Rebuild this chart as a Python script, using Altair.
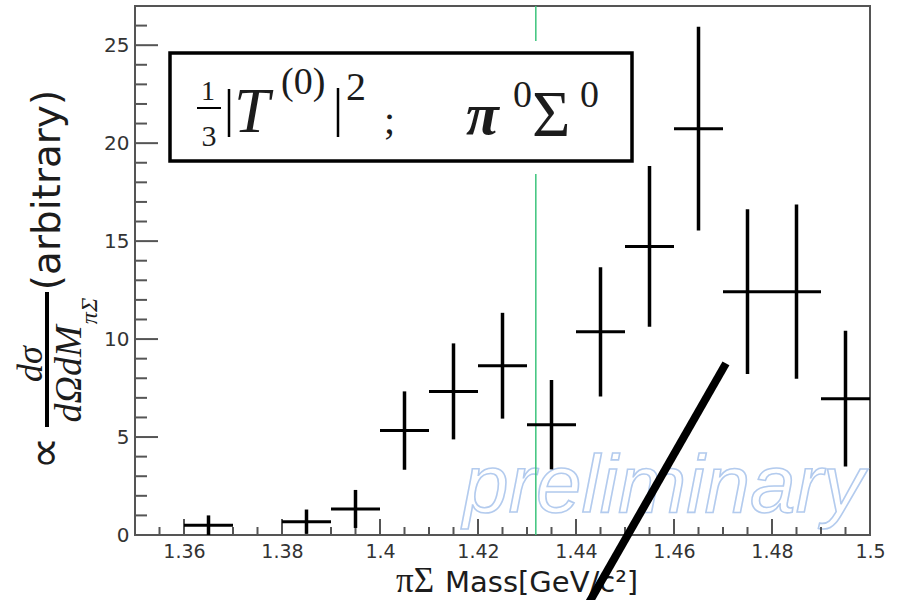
import altair as alt
import pandas as pd

# piSigma invariant-mass bins (GeV/c^2): centres, yields and statistical errors
mass = [1.365, 1.385, 1.395, 1.405, 1.415, 1.425, 1.435, 1.445, 1.455, 1.465, 1.475, 1.485, 1.495]
yields = [0.50, 0.68, 1.33, 5.33, 7.33, 8.64, 5.63, 10.37, 14.73, 20.74, 12.42, 12.42, 6.96]
errors = [0.50, 0.62, 0.97, 2.00, 2.45, 2.70, 2.28, 3.30, 4.10, 5.20, 4.20, 4.45, 3.46]
bin_half_width = 0.005

# vertical marker (threshold mass)
threshold = [1.4318]

# axis ticks
x_major = [1.36, 1.38, 1.40, 1.42, 1.44, 1.46, 1.48, 1.50]
x_minor = [1.355, 1.365, 1.37, 1.375, 1.385, 1.39, 1.395, 1.405, 1.41, 1.415,
           1.425, 1.43, 1.435, 1.445, 1.45, 1.455, 1.465, 1.47, 1.475, 1.485,
           1.49, 1.495]
y_major = [0, 5, 10, 15, 20, 25]
y_minor = [1, 2, 3, 4, 6, 7, 8, 9, 11, 12, 13, 14, 16, 17, 18, 19, 21, 22, 23, 24, 26]

# hand-drawn pointer stroke (mass, yield) end points
pointer_mass = [1.4706, 1.4418]
pointer_yield = [8.76, -3.83]

PAD_L, PAD_T, PAD_R, PAD_B = 135, 6, 27, 65
W, H = 735, 529
FRAME = "#555555"
INK = "#1c1c1c"

xs = alt.Scale(domain=[1.35, 1.5], nice=False, zero=False)
ys = alt.Scale(domain=[0, 27], nice=False, zero=True)

df = pd.DataFrame({"mass": mass, "val": yields, "err": errors})
df["lo"] = df["val"] - df["err"]
df["hi"] = df["val"] + df["err"]
df["xlo"] = df["mass"] - bin_half_width
df["xhi"] = df["mass"] + bin_half_width

one = pd.DataFrame({"k": [0]})


def px(v):
    return alt.value(v - PAD_L)


def py(v):
    return alt.value(v - PAD_T)


def label(txt, x, y, size, font="Liberation Serif", style="normal", weight="normal",
          angle=0, align="left", baseline="alphabetic", color=INK):
    return alt.Chart(one).mark_text(
        text=txt, font=font, fontSize=size, fontStyle=style, fontWeight=weight,
        angle=angle, align=align, baseline=baseline, color=color,
    ).encode(x=px(x), y=py(y))


def segment(x1, y1, x2, y2, width, color="black"):
    return alt.Chart(one).mark_rule(color=color, strokeWidth=width).encode(
        x=px(x1), y=py(y1), x2=px(x2), y2=py(y2))


# outlined watermark
watermark = alt.Chart(one).mark_text(
    text="preliminary", font="Liberation Sans", fontStyle="italic", fontSize=82,
    fill="transparent", stroke="#b3cbee", strokeWidth=1.6,
    align="left", baseline="alphabetic",
).encode(x=px(463), y=py(512))

marker = alt.Chart(pd.DataFrame({"m": threshold})).mark_rule(
    color="#3cc47c", strokeWidth=1.5
).encode(x=alt.X("m:Q", scale=xs), y=alt.value(0), y2=alt.value(H))

x_axis = alt.Axis(values=x_major, format=".2~f", title=None, ticks=False, domain=False,
                  grid=False, labelFont="DejaVu Sans", labelFontSize=19,
                  labelColor="#333333", labelPadding=7, labelFlush=False,
                  labelOverlap=False)
y_axis = alt.Axis(values=y_major, format="d", title=None, ticks=False, domain=False,
                  grid=False, labelFont="DejaVu Sans", labelFontSize=20,
                  labelColor="#333333", labelPadding=6)

vbars = alt.Chart(df).mark_rule(color="black", strokeWidth=3.5).encode(
    x=alt.X("mass:Q", scale=xs, axis=x_axis),
    y=alt.Y("lo:Q", scale=ys, axis=y_axis),
    y2="hi:Q",
)
hbars = alt.Chart(df).mark_rule(color="black", strokeWidth=3).encode(
    x=alt.X("xlo:Q", scale=xs), x2="xhi:Q", y=alt.Y("val:Q", scale=ys),
)

# inward ticks
xt_major = alt.Chart(pd.DataFrame({"t": x_major})).mark_rule(color=FRAME, strokeWidth=2).encode(
    x=alt.X("t:Q", scale=xs), y=alt.value(H), y2=alt.value(H - 16))
xt_minor = alt.Chart(pd.DataFrame({"t": x_minor})).mark_rule(color=FRAME, strokeWidth=2).encode(
    x=alt.X("t:Q", scale=xs), y=alt.value(H), y2=alt.value(H - 8))
yt_major = alt.Chart(pd.DataFrame({"t": y_major})).mark_rule(color=FRAME, strokeWidth=2).encode(
    y=alt.Y("t:Q", scale=ys), x=alt.value(0), x2=alt.value(23))
yt_minor = alt.Chart(pd.DataFrame({"t": y_minor})).mark_rule(color=FRAME, strokeWidth=2).encode(
    y=alt.Y("t:Q", scale=ys), x=alt.value(0), x2=alt.value(12))

# formula box
box_bg = alt.Chart(one).mark_rect(color="white").encode(
    x=px(163), x2=px(640), y=py(41), y2=py(174))
box = alt.Chart(one).mark_rect(fill="white", stroke="black", strokeWidth=3.5).encode(
    x=px(170), x2=px(632), y=py(53), y2=py(161))

formula = [
    label("1", 208, 100, 28, align="center"),
    segment(197, 108, 221, 108, 2),
    label("3", 209, 146, 30, align="center"),
    segment(229, 89, 229, 137, 2.5),
    label("T", 234, 132, 64, style="italic"),
    label("(0)", 281, 94, 38),
    segment(338, 88, 338, 137, 2.5),
    label("2", 346, 100, 40),
    label(";", 384, 134, 40),
    label("π", 466, 134, 60, style="italic", weight="bold"),
    label("0", 513, 107, 38),
    label("Σ", 532, 136, 66),
    label("0", 580, 107, 38),
]

# composite y-axis title (reads bottom-to-top)
y_title = [
    label("∝", 46, 453, 46, font="DejaVu Sans", angle=270, align="center", baseline="middle"),
    label("dσ", 31, 364, 36, style="italic", angle=270, align="center", baseline="middle"),
    segment(47, 292, 47, 427, 4),
    label("dΩdM", 70, 374, 38, style="italic", angle=270, align="center", baseline="middle"),
    label("πΣ", 90, 311, 24, style="italic", angle=270, align="center", baseline="middle"),
    label("(arbitrary)", 48, 190, 39, font="DejaVu Sans", angle=270, align="center",
          baseline="middle"),
]

# x-axis title
x_title = [
    label("πΣ", 396, 592, 35),
    label("Mass[GeV/c²]", 445, 592, 29, font="DejaVu Sans"),
]

pointer = alt.Chart(pd.DataFrame({"m": [pointer_mass[0]], "v": [pointer_yield[0]],
                                  "m2": [pointer_mass[1]], "v2": [pointer_yield[1]]})).mark_rule(
    color="black", strokeWidth=8
).encode(x=alt.X("m:Q", scale=xs), y=alt.Y("v:Q", scale=ys), x2="m2:Q", y2="v2:Q")

chart = alt.layer(
    watermark, marker, xt_minor, xt_major, yt_minor, yt_major, vbars, hbars,
    box_bg, box, *formula, *y_title, *x_title, pointer,
).properties(
    width=W, height=H,
    autosize=alt.AutoSizeParams(type="none"),
    padding={"left": PAD_L, "top": PAD_T, "right": PAD_R, "bottom": PAD_B},
    background="white",
).configure_view(stroke=FRAME, strokeWidth=2)

chart.save("out.html", embed_options={"renderer": "svg", "actions": False})
